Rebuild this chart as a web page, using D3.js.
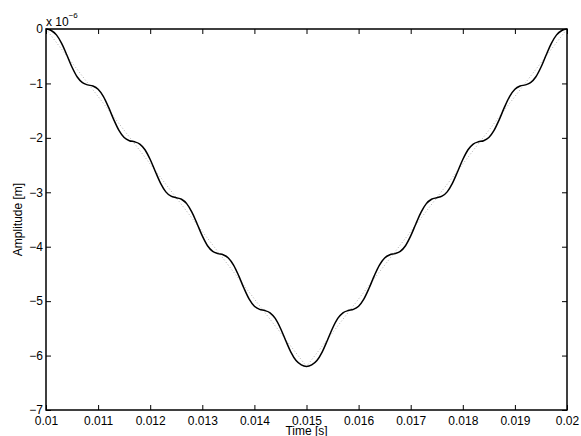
<!DOCTYPE html>
<html>
<head>
<meta charset="utf-8">
<script src="https://cdn.jsdelivr.net/npm/d3@7"></script>
<style>
  body { margin: 0; background: #fff; }
  text { font-family: "Liberation Sans", Arial, Helvetica, sans-serif; }
</style>
</head>
<body>
<div id="chart"></div>
<script>
// sample times [s]
var time = [
  0.0100,0.0101,0.0102,0.0103,0.0104,0.0105,0.0106,0.0107,0.0108,0.0109,
  0.0110,0.0111,0.0112,0.0113,0.0114,0.0115,0.0116,0.0117,0.0118,0.0119,
  0.0120,0.0121,0.0122,0.0123,0.0124,0.0125,0.0126,0.0127,0.0128,0.0129,
  0.0130,0.0131,0.0132,0.0133,0.0134,0.0135,0.0136,0.0137,0.0138,0.0139,
  0.0140,0.0141,0.0142,0.0143,0.0144,0.0145,0.0146,0.0147,0.0148,0.0149,
  0.0150,0.0151,0.0152,0.0153,0.0154,0.0155,0.0156,0.0157,0.0158,0.0159,
  0.0160,0.0161,0.0162,0.0163,0.0164,0.0165,0.0166,0.0167,0.0168,0.0169,
  0.0170,0.0171,0.0172,0.0173,0.0174,0.0175,0.0176,0.0177,0.0178,0.0179,
  0.0180,0.0181,0.0182,0.0183,0.0184,0.0185,0.0186,0.0187,0.0188,0.0189,
  0.0190,0.0191,0.0192,0.0193,0.0194,0.0195,0.0196,0.0197,0.0198,0.0199,
  0.0200
];
// measured amplitude [x 1e-6 m]
var amplitude = [
  0,-0.028,-0.108,-0.264,-0.478,-0.702,-0.882,-0.986,-1.027,-1.048,
  -1.107,-1.237,-1.436,-1.664,-1.863,-1.993,-2.052,-2.073,-2.114,-2.218,
  -2.398,-2.622,-2.836,-2.992,-3.072,-3.100,-3.128,-3.208,-3.364,-3.578,
  -3.802,-3.982,-4.086,-4.127,-4.148,-4.207,-4.337,-4.536,-4.764,-4.963,
  -5.093,-5.152,-5.173,-5.214,-5.318,-5.498,-5.722,-5.936,-6.092,-6.172,
  -6.200,-6.172,-6.092,-5.936,-5.722,-5.498,-5.318,-5.214,-5.173,-5.152,
  -5.093,-4.963,-4.764,-4.536,-4.337,-4.207,-4.148,-4.127,-4.086,-3.982,
  -3.802,-3.578,-3.364,-3.208,-3.128,-3.100,-3.072,-2.992,-2.836,-2.622,
  -2.398,-2.218,-2.114,-2.073,-2.052,-1.993,-1.863,-1.664,-1.436,-1.237,
  -1.107,-1.048,-1.027,-0.986,-0.882,-0.702,-0.478,-0.264,-0.108,-0.028,
  0
];
// reference (dotted) trajectory
var refTime = [0.010,0.011,0.012,0.013,0.014,0.015,0.016,0.017,0.018,0.019,0.020];
var refAmplitude = [0,-1.24,-2.48,-3.72,-4.96,-6.2,-4.96,-3.72,-2.48,-1.24,0];

var xTicks = [0.01,0.011,0.012,0.013,0.014,0.015,0.016,0.017,0.018,0.019,0.02];
var xTickLabels = ["0.01","0.011","0.012","0.013","0.014","0.015","0.016","0.017","0.018","0.019","0.02"];
var yTicks = [0,-1,-2,-3,-4,-5,-6,-7];

var width = 581, height = 436;
var m = {left: 46, right: 567, top: 29, bottom: 410};

var x = d3.scaleLinear().domain([0.01, 0.02]).range([m.left, m.right]);
var y = d3.scaleLinear().domain([-7, 0]).range([m.bottom, m.top]);

var svg = d3.select("#chart").append("svg")
    .attr("width", width)
    .attr("height", height);

var plot = svg.append("g");

// dotted reference
var refLine = d3.line()
    .x(function(d, i) { return x(refTime[i]); })
    .y(function(d) { return y(d); });
plot.append("path")
    .attr("d", refLine(refAmplitude))
    .attr("fill", "none")
    .attr("stroke", "#999")
    .attr("stroke-width", 0.8)
    .attr("stroke-dasharray", "1,2.2");

// measured
var line = d3.line()
    .x(function(d, i) { return x(time[i]); })
    .y(function(d) { return y(d); })
    .curve(d3.curveMonotoneX);
plot.append("path")
    .attr("d", line(amplitude))
    .attr("fill", "none")
    .attr("stroke", "#000")
    .attr("stroke-width", 1.5);

// axes, MATLAB style (ticks inward on all four sides)
var tickLen = 5;
var xAxisB = d3.axisBottom(x).tickValues(xTicks).tickSize(-tickLen).tickPadding(6)
    .tickFormat(function(d, i) { return xTickLabels[i]; });
var xAxisT = d3.axisTop(x).tickValues(xTicks).tickSize(-tickLen).tickFormat("");
var yAxisL = d3.axisLeft(y).tickValues(yTicks).tickSize(-tickLen).tickPadding(3)
    .tickFormat(function(d) { return d === 0 ? "0" : "\u2212" + Math.abs(d); });
var yAxisR = d3.axisRight(y).tickValues(yTicks).tickSize(-tickLen).tickFormat("");

function style(g) {
  g.select(".domain").remove();
  g.selectAll(".tick line").attr("stroke", "#000").attr("stroke-width", 1);
  g.selectAll(".tick text").attr("fill", "#000").attr("font-size", 12)
    .style("font-family", "'Liberation Sans', Arial, Helvetica, sans-serif");
}

svg.append("g").attr("transform", "translate(0," + m.bottom + ")").call(xAxisB).call(style);
svg.append("g").attr("transform", "translate(0," + m.top + ")").call(xAxisT).call(style);
svg.append("g").attr("transform", "translate(" + m.left + ",0)").call(yAxisL).call(style);
svg.append("g").attr("transform", "translate(" + m.right + ",0)").call(yAxisR).call(style);

svg.append("rect")
    .attr("x", m.left).attr("y", m.top)
    .attr("width", m.right - m.left).attr("height", m.bottom - m.top)
    .attr("fill", "none").attr("stroke", "#000").attr("stroke-width", 1.5);

// exponent label
var ex = svg.append("text").attr("x", m.left).attr("y", 26).attr("font-size", 12);
ex.append("tspan").text("x 10");
ex.append("tspan").attr("dy", -8).attr("font-size", 8).text("\u22126");

// axis labels
svg.append("text")
    .attr("x", (m.left + m.right) / 2)
    .attr("y", 435)
    .attr("text-anchor", "middle")
    .attr("font-size", 12)
    .text("Time [s]");

svg.append("text")
    .attr("transform", "translate(22," + (m.top + m.bottom) / 2 + ") rotate(-90)")
    .attr("text-anchor", "middle")
    .attr("font-size", 12)
    .text("Amplitude [m]");
</script>
</body>
</html>
